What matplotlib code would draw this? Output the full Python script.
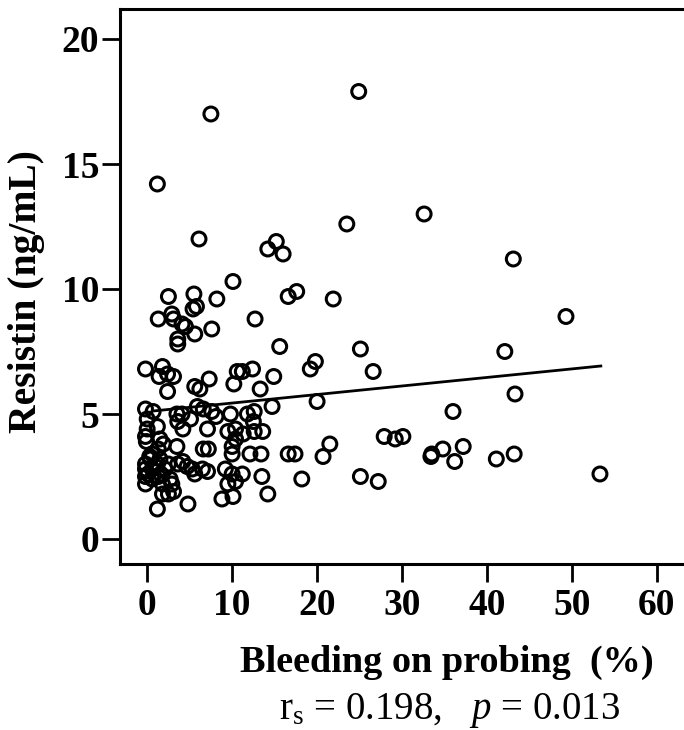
import matplotlib
matplotlib.use("Agg")
import matplotlib.pyplot as plt

# Bleeding on probing (%) and resistin (ng/mL)
bop = [7.5, 24.9, 1.2, 6.1, 32.6, 23.5, 43.1, 14.2, 15.2, 16.0,
       10.1, 2.5, 5.5, 5.8, 5.4, 8.2, 16.6, 17.6, 21.9, 1.3,
       2.9, 3.1, 4.1, 4.5, 3.6, 3.6, 5.6, 7.6, 12.7, 15.6,
       25.1, 26.6, 19.8, 19.2, 49.3, 42.1, 43.3, 36.0,
       -0.2, 1.8, 1.4, 2.4, 3.1, 2.4, 5.6, 6.2, 7.3, 10.2,
       10.6, 11.2, 12.4, 14.9, 13.3,
       -0.2, 0.7, 0.0, 0.0, -0.2, -0.1, 1.2, 1.5, 3.5, 3.6,
       4.1, 5.1, 4.2, 5.9, 6.6, 7.6, 8.1, 7.1, 9.8, 11.8,
       12.6, 12.5, 14.7, 20.0, 9.5, 10.4, 11.3, 10.4, 12.6, 13.6,
       3.5, 6.6, 7.2, 10.0, 10.0, 12.1, 13.4, 16.6, 17.4, 21.5,
       20.7, 27.9, 29.2, 30.1, 33.4, 33.5, 34.8, 36.2, 37.2, 41.1,
       43.2, 53.3, 25.1, 27.2, 18.2, 13.5, 14.2, 8.8, 10.1, 9.2,
       10.0, 9.5, 10.4, 11.2, 1.2, 4.8,
       -0.2, -0.2, -0.2, -0.2, 0.4, 0.6, 0.6, 1.2, 1.3, 1.8,
       2.1, 2.5, 2.9, 3.1, 1.8, 2.5, 3.6, 4.2, 4.7, 5.3,
       5.6, 6.5, 7.1, 1.3, 1.9, 0.6, 1.5, 2.7, 0.1, 1.0,
       1.6, 0.3]
resistin = [17.0, 17.9, 14.2, 12.0, 13.0, 12.6, 11.2, 11.6, 11.9, 11.4,
            10.3, 9.7, 9.8, 9.3, 9.2, 9.6, 9.7, 9.9, 9.6, 8.8,
            9.0, 8.8, 8.6, 8.5, 8.0, 7.8, 8.2, 8.4, 8.8, 7.7,
            7.6, 6.7, 7.1, 6.8, 8.9, 7.5, 5.8, 5.1,
            6.8, 6.9, 6.5, 6.6, 6.5, 5.9, 6.1, 6.0, 6.4, 6.2,
            6.7, 6.7, 6.8, 6.5, 6.0,
            5.2, 5.1, 4.8, 4.4, 4.1, 3.9, 4.5, 4.0, 5.0, 4.7,
            5.0, 4.8, 4.4, 5.3, 5.2, 5.1, 4.9, 4.4, 5.0, 5.0,
            5.1, 4.7, 5.3, 5.5, 4.3, 4.4, 4.2, 4.0, 4.3, 4.3,
            3.7, 3.6, 3.6, 3.7, 3.4, 3.4, 3.4, 3.4, 3.4, 3.8,
            3.3, 4.1, 4.0, 4.1, 3.3, 3.4, 3.6, 3.1, 3.7, 3.2,
            3.4, 2.6, 2.5, 2.3, 2.4, 2.5, 1.8, 1.6, 1.7, 2.8,
            2.6, 2.2, 2.3, 2.6, 1.2, 1.4,
            3.0, 2.8, 2.5, 2.2, 3.2, 2.8, 2.4, 3.0, 2.5, 2.2,
            2.8, 3.0, 2.2, 1.9, 1.8, 1.8, 3.0, 3.1, 2.9, 2.8,
            2.6, 2.8, 2.7, 3.6, 3.8, 3.4, 3.2, 2.4, 2.6, 2.9,
            2.6, 3.3]

# regression line end points
fit_x = [0.7, 53.4]
fit_y = [5.12, 6.92]

x_ticks = [0, 10, 20, 30, 40, 50, 60]
y_ticks = [0, 5, 10, 15, 20]

plt.rcParams['font.family'] = ['Liberation Serif', 'DejaVu Serif']
plt.rcParams['mathtext.fontset'] = 'custom'
plt.rcParams['mathtext.rm'] = 'Liberation Serif'
plt.rcParams['mathtext.it'] = 'Liberation Serif:italic'

fig = plt.figure(figsize=(6.84, 7.30), dpi=100)
ax = fig.add_axes([120 / 684, (730 - 564) / 730, (690 - 120) / 684, (564 - 9) / 730])

ax.scatter(bop, resistin, s=100, facecolors='none', edgecolors='black',
           linewidths=2.2, zorder=3)
ax.plot(fit_x, fit_y, color='black', lw=2.0, zorder=2)

ax.set_xlim(-3.2, 63.9)
ax.set_ylim(-1.0, 21.2)
ax.set_xticks(x_ticks)
ax.set_yticks(y_ticks)
ax.set_xticklabels([str(t) for t in x_ticks], fontsize=27, fontweight='bold')
ax.set_yticklabels([str(t) for t in y_ticks], fontsize=27, fontweight='bold')
ax.tick_params(axis='both', direction='out', length=13, width=2.0, pad=4)
ax.tick_params(axis='y', pad=2)

for side in ['left', 'bottom', 'top']:
    ax.spines[side].set_linewidth(2.2)
ax.spines['right'].set_visible(False)

fig.text(447 / 684, 1 - 662 / 730, 'Bleeding on probing  (%)', ha='center', va='center',
         fontsize=27.5, fontweight='bold')
fig.text(27 / 684, 1 - 292 / 730, 'Resistin (ng/mL)', ha='center', va='center',
         rotation=90, fontsize=28.5, fontweight='bold')
fig.text(450 / 684, 1 - 711 / 730, r'r$_\mathregular{s}$ = 0.198,   $\mathit{p}$ = 0.013',
         ha='center', va='center', fontsize=28)

fig.savefig('out.png', dpi=100)
